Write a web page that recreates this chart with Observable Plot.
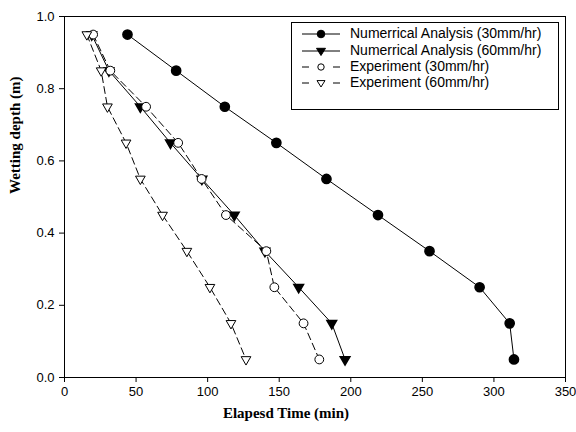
<!DOCTYPE html>
<html>
<head>
<meta charset="utf-8">
<script src="https://cdn.jsdelivr.net/npm/d3@7"></script>
<script src="https://cdn.jsdelivr.net/npm/@observablehq/plot@0.6"></script>
<style>
  html, body { margin: 0; padding: 0; background: white; }
  #wrap { position: relative; width: 576px; height: 432px; }
  #legend { position: absolute; left: 291px; top: 22px; width: 268px; height: 88px;
    border: 1px solid black; background: white; box-sizing: border-box;
    font-family: "Liberation Sans", Arial, sans-serif; font-size: 14px; }
  .row { position: absolute; left: 0; height: 14px; }
  .row svg { position: absolute; left: 10px; top: 0; }
  .row span { position: absolute; left: 58px; top: -2px; white-space: nowrap; line-height: 16px; }
</style>
</head>
<body>
<div id="wrap"></div>
<script>
const depth = [0.95, 0.85, 0.75, 0.65, 0.55, 0.45, 0.35, 0.25, 0.15, 0.05];
const num30 = [44, 78, 112, 148, 183, 219, 255, 290, 311, 314];
const num60 = [19, 31, 53, 74, 96, 118.6, 140, 163.6, 186.7, 196];
const exp30 = [20, 32, 57, 79.4, 95.8, 112.8, 141, 146.6, 167, 178];
const exp60 = [15.6, 25.6, 30, 43, 53, 68.5, 85.5, 101.6, 116.3, 126.8];
const xTicks = [0, 50, 100, 150, 200, 250, 300, 350];
const yTicks = [0.0, 0.2, 0.4, 0.6, 0.8, 1.0];
const seriesNames = ["Numerrical Analysis (30mm/hr)", "Numerrical Analysis (60mm/hr)", "Experiment (30mm/hr)", "Experiment (60mm/hr)"];
const xLabel = "Elapesd Time (min)";
const yLabel = "Wetting depth (m)";

const toRows = (arr) => arr.map((t, i) => ({t, d: depth[i]}));
const s1 = toRows(num30), s2 = toRows(num60), s3 = toRows(exp30), s4 = toRows(exp60);
const dash = "7,4";

const chart = Plot.plot({
  width: 576,
  height: 432,
  marginLeft: 64,
  marginRight: 11,
  marginTop: 16,
  marginBottom: 55,
  style: {fontFamily: "Liberation Sans, Arial, sans-serif", fontSize: "13px", color: "black", background: "white"},
  x: {domain: [0, 350]},
  y: {domain: [0, 1]},
  marks: [
    Plot.frame({stroke: "black", strokeWidth: 1}),
    Plot.axisX({ticks: xTicks, tickSize: 5, tickPadding: 4, tickFormat: d => String(d), label: null, stroke: "black"}),
    Plot.axisY({ticks: yTicks, tickSize: 5, tickPadding: 5, tickFormat: d3.format(".1f"), label: null, stroke: "black"}),
    Plot.line(s4, {x: "t", y: "d", stroke: "black", strokeWidth: 1, strokeDasharray: dash}),
    Plot.line(s3, {x: "t", y: "d", stroke: "black", strokeWidth: 1, strokeDasharray: dash}),
    Plot.line(s2, {x: "t", y: "d", stroke: "black", strokeWidth: 1}),
    Plot.line(s1, {x: "t", y: "d", stroke: "black", strokeWidth: 1}),
    Plot.dot(s1, {x: "t", y: "d", r: 4.6, fill: "black", stroke: "black"}),
    Plot.dot(s2, {x: "t", y: "d", r: 3.6, symbol: "triangle", rotate: 180, fill: "black", stroke: "black"}),
    Plot.dot(s3, {x: "t", y: "d", r: 4.4, fill: "white", stroke: "black", strokeWidth: 1}),
    Plot.dot(s4, {x: "t", y: "d", r: 3.6, symbol: "triangle", rotate: 180, fill: "white", stroke: "black", strokeWidth: 1}),
    Plot.text([xLabel], {frameAnchor: "bottom", dx: -29, dy: 40, fontFamily: "Liberation Serif, Times New Roman, serif", fontWeight: "bold", fontSize: 15, fill: "black"}),
    Plot.text([yLabel], {frameAnchor: "left", dx: -49, dy: -3, rotate: -90, fontFamily: "Liberation Serif, Times New Roman, serif", fontWeight: "bold", fontSize: 15, fill: "black"})
  ]
});
const wrap = document.getElementById("wrap");
wrap.appendChild(chart);

// legend
const legend = document.createElement("div");
legend.id = "legend";
const styles = [
  {dash: null, sym: "circle", fill: "black"},
  {dash: null, sym: "tri", fill: "black"},
  {dash: "6,4", sym: "circle", fill: "white", small: true},
  {dash: "6,4", sym: "tri", fill: "white", small: true}
];
const tops = [4, 21, 37, 53];
seriesNames.forEach((name, i) => {
  const st = styles[i];
  const row = document.createElement("div");
  row.className = "row";
  row.style.top = tops[i] + "px";
  const sym = d3.create("svg").attr("width", 42).attr("height", 14);
  if (st.dash) {
    sym.append("line").attr("x1", 0).attr("x2", 7).attr("y1", 7).attr("y2", 7).attr("stroke", "black");
    sym.append("line").attr("x1", 31).attr("x2", 38).attr("y1", 7).attr("y2", 7).attr("stroke", "black");
  } else {
    sym.append("line").attr("x1", 0).attr("x2", 38).attr("y1", 7).attr("y2", 7).attr("stroke", "black");
  }
  if (st.sym === "circle") {
    sym.append("circle").attr("cx", 19).attr("cy", 7).attr("r", st.small ? 3.2 : 3.8).attr("fill", st.fill).attr("stroke", "black");
  } else {
    const s = st.small ? 4 : 4.5;
    sym.append("path").attr("d", `M${19 - s},${7 - s * 0.6}L${19 + s},${7 - s * 0.6}L19,${7 + s}Z`).attr("fill", st.fill).attr("stroke", "black");
  }
  row.appendChild(sym.node());
  const span = document.createElement("span");
  span.textContent = name;
  row.appendChild(span);
  legend.appendChild(row);
});
wrap.appendChild(legend);
</script>
</body>
</html>
